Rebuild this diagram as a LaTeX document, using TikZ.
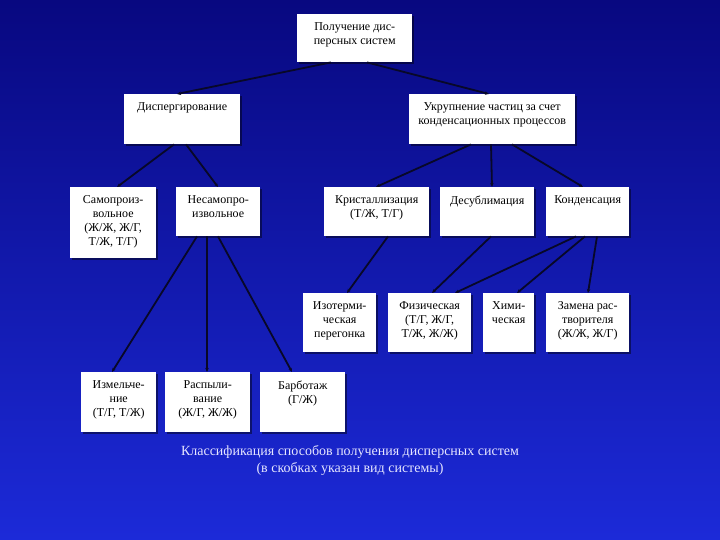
\documentclass[tikz,border=0pt]{standalone}
\usepackage{fontspec}
\setmainfont{Liberation Serif}
\usetikzlibrary{calc,arrows.meta,shadows}
\definecolor{bgtop}{RGB}{8,8,128}
\definecolor{bgbot}{RGB}{28,42,216}
\definecolor{linec}{RGB}{8,8,40}
\begin{document}
\begin{tikzpicture}[x=1pt,y=-1pt,
 box/.style={draw=none, fill=white, anchor=north west, inner sep=0pt,
   drop shadow={shadow xshift=1.5pt, shadow yshift=-1.5pt, opacity=0.45, fill=black}},
 txt/.style={anchor=north, align=center, inner sep=0pt, font=\fontsize{12}{14}\selectfont, text=black, yshift=-8.5pt},
 con/.style={draw=linec, line width=1.8pt, -{Stealth[length=4pt,width=3.5pt]}}]
\shade[top color=bgtop, bottom color=bgbot] (0,0) rectangle (720,540);
\useasboundingbox (0,0) rectangle (720,540);

% boxes
\node[box, minimum width=115pt, minimum height=48pt] (top) at (297,14) {};
\node[box, minimum width=116pt, minimum height=50pt] (disp) at (124,94) {};
\node[box, minimum width=166pt, minimum height=50pt] (ukr) at (409,94) {};
\node[box, minimum width=86pt, minimum height=71pt] (samo) at (70,187) {};
\node[box, minimum width=84pt, minimum height=49pt] (nesamo) at (176,187) {};
\node[box, minimum width=105pt, minimum height=49pt] (krist) at (324,187) {};
\node[box, minimum width=94pt, minimum height=49pt] (desub) at (440,187) {};
\node[box, minimum width=83pt, minimum height=49pt] (kond) at (546,187) {};
\node[box, minimum width=73pt, minimum height=59pt] (izot) at (303,293) {};
\node[box, minimum width=83pt, minimum height=59pt] (fiz) at (388,293) {};
\node[box, minimum width=51pt, minimum height=59pt] (him) at (483,293) {};
\node[box, minimum width=83pt, minimum height=59pt] (zam) at (546,293) {};
\node[box, minimum width=75pt, minimum height=60pt] (izm) at (81,372) {};
\node[box, minimum width=85pt, minimum height=60pt] (rasp) at (165,372) {};
\node[box, minimum width=85pt, minimum height=60pt] (barb) at (260,372) {};

% texts
\node[txt] (ttop) at (top.north) {Получение дис-\\персных систем};
\node[txt] (tdisp) at (disp.north) {Диспергирование};
\node[txt] (tukr) at (ukr.north) {Укрупнение частиц за счет\\конденсационных процессов};
\node[txt] (tsamo) at (samo.north) {Самопроиз-\\вольное\\(Ж/Ж, Ж/Г,\\Т/Ж, Т/Г)};
\node[txt] (tnesamo) at (nesamo.north) {Несамопро-\\извольное};
\node[txt] (tkrist) at (krist.north) {Кристаллизация\\(Т/Ж, Т/Г)};
\node[txt] (tdesub) at (desub.north) {Десублимация};
\node[txt] (tkond) at (kond.north) {Конденсация};
\node[txt] (tizot) at (izot.north) {Изотерми-\\ческая\\перегонка};
\node[txt] (tfiz) at (fiz.north) {Физическая\\(Т/Г, Ж/Г,\\Т/Ж, Ж/Ж)};
\node[txt] (thim) at (him.north) {Хими-\\ческая};
\node[txt] (tzam) at (zam.north) {Замена рас-\\творителя\\(Ж/Ж, Ж/Г)};
\node[txt] (tizm) at (izm.north) {Измельче-\\ние\\(Т/Г, Т/Ж)};
\node[txt] (trasp) at (rasp.north) {Распыли-\\вание\\(Ж/Г, Ж/Ж)};
\node[txt] (tbarb) at (barb.north) {Барботаж\\(Г/Ж)};

% connectors
\draw[con] ($(top.south west)+(34,0)$) -- ($(disp.north west)+(53,0)$);
\draw[con] ($(top.south west)+(70,0)$) -- ($(ukr.north west)+(80,0)$);
\draw[con] ($(disp.south west)+(50,0)$) -- ($(samo.north west)+(47,0)$);
\draw[con] ($(disp.south west)+(62,0)$) -- ($(nesamo.north west)+(42,0)$);
\draw[con] ($(ukr.south west)+(62,0)$) -- ($(krist.north west)+(52,0)$);
\draw[con] ($(ukr.south west)+(82,0)$) -- ($(desub.north west)+(52,0)$);
\draw[con] ($(ukr.south west)+(103,0)$) -- ($(kond.north west)+(37,0)$);
\draw[con] ($(nesamo.south west)+(21,0)$) -- ($(izm.north west)+(31,0)$);
\draw[con] ($(nesamo.south west)+(31,0)$) -- ($(rasp.north west)+(42,0)$);
\draw[con] ($(nesamo.south west)+(42,0)$) -- ($(barb.north west)+(32,0)$);
\draw[con] ($(krist.south west)+(64,0)$) -- ($(izot.north west)+(44,0)$);
\draw[con] ($(desub.south west)+(51,0)$) -- ($(fiz.north west)+(44,0)$);
\draw[con] ($(kond.south west)+(30,0)$) -- ($(fiz.north west)+(67,0)$);
\draw[con] ($(kond.south west)+(39,0)$) -- ($(him.north west)+(34,0)$);
\draw[con] ($(kond.south west)+(51,0)$) -- ($(zam.north west)+(42,0)$);

% caption
\node[font=\fontsize{14}{17}\selectfont, text=white!90!blue, align=center] (cap) at (350,460)
 {Классификация способов получения дисперсных систем\\(в скобках указан вид системы)};
\end{tikzpicture}
\end{document}
